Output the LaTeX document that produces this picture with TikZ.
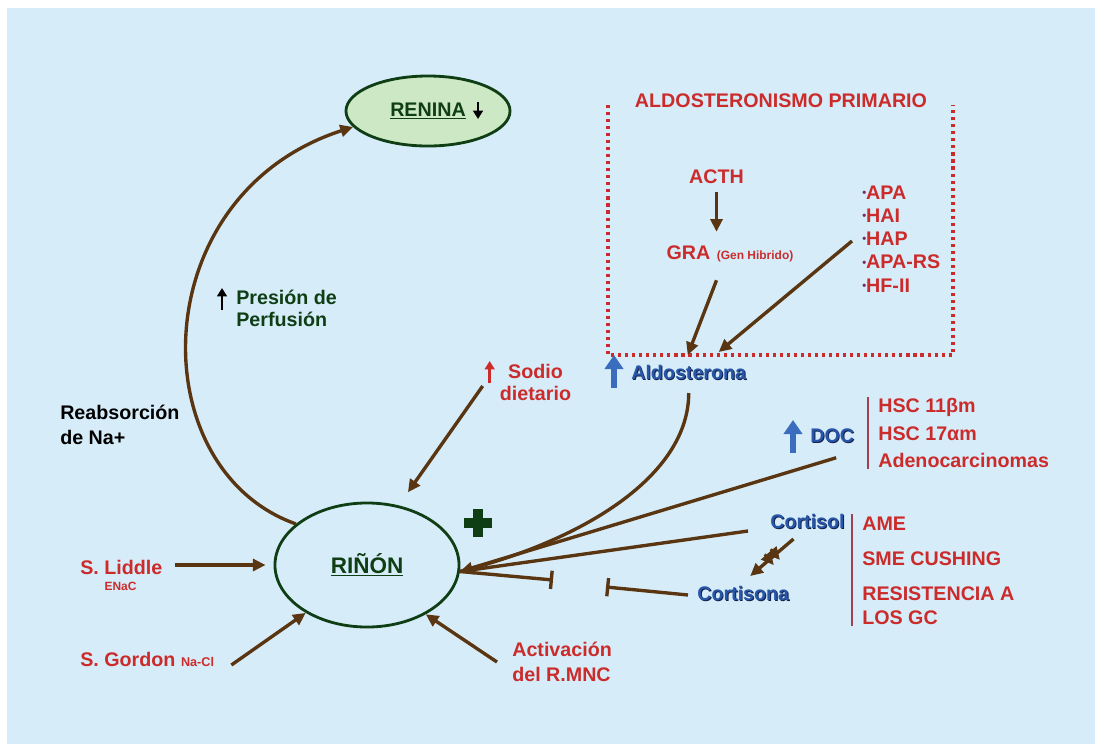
\documentclass[tikz,border=0pt]{standalone}
\usepackage{fontspec}
\setmainfont{Liberation Sans}
\usetikzlibrary{shapes.geometric, arrows.meta, positioning, calc, decorations.markings}
\definecolor{bgblue}{HTML}{D6EDF9}
\definecolor{txtred}{HTML}{CC2B2B}
\definecolor{arrbrown}{HTML}{5A3511}
\definecolor{dkgreen}{HTML}{0F3D14}
\definecolor{renfill}{HTML}{CDE8C5}
\definecolor{blutxt}{HTML}{2856A8}
\definecolor{blushadow}{HTML}{14204A}
\definecolor{bluarr}{HTML}{3A6DBE}
\definecolor{sepcol}{HTML}{A04050}
\definecolor{bulpurple}{HTML}{7B2A5E}
\newcommand{\bul}{{\color{bulpurple}\fontsize{8}{8}\selectfont\raisebox{2pt}{\textbullet}}}
\newcommand{\shd}[1]{\rlap{\textcolor{blushadow}{\hspace{0.7pt}\raisebox{-0.7pt}{#1}}}#1}

\begin{document}
\begin{tikzpicture}[
    x=0.025cm, y=-0.025cm,
    txt/.style={inner sep=0pt, font=\bfseries\fontsize{14}{16.5}\selectfont},
    redtxt/.style={txt, text=txtred},
    bluetxt/.style={txt, text=blutxt},
    greentxt/.style={txt, text=dkgreen},
    smalltxt/.style={inner sep=0pt, text=txtred, font=\bfseries\fontsize{8.5}{10}\selectfont},
    organ/.style={ellipse, draw=dkgreen, line width=2pt, text=dkgreen,
                  font=\bfseries\fontsize{16}{18}\selectfont},
    conn/.style={draw=arrbrown, line width=2.4pt, -{Triangle[length=9pt,width=8.5pt]}},
    fanln/.style={draw=arrbrown, line width=2.4pt},
    inhib/.style={draw=arrbrown, line width=2.4pt, -{Bar[width=13pt]}},
    dblbar/.style={postaction={decorate, decoration={markings,
        mark=at position 0.42 with {\draw[arrbrown, line width=2pt] (0pt,-5pt) -- (0pt,5pt);},
        mark=at position 0.56 with {\draw[arrbrown, line width=2pt] (0pt,-5pt) -- (0pt,5pt);}}}},
    uparr/.style={line width=2pt, -{Triangle[length=6pt,width=7pt]}},
    bigup/.style={draw=bluarr, line width=3.8pt, -{Triangle[length=10pt,width=13pt]}},
    dotbox/.style={draw=txtred, line width=2.2pt, dash pattern=on 2.2pt off 2.8pt},
    sepline/.style={draw=sepcol, line width=1.1pt}
  ]
    \useasboundingbox (0,0) rectangle (1095,744);
    \fill[bgblue] (7,8) rectangle (1095,744);

    % organos
    \node[organ, fill=renfill, minimum width=4.1cm, minimum height=1.75cm,
          font=\bfseries\fontsize{14}{16}\selectfont] (renina) at (428,111) {\underline{RENINA}\hspace{16pt}};
    \node[organ, minimum width=4.6cm, minimum height=3.1cm] (rinon) at (367,565) {\underline{RIÑÓN}};
    \draw[uparr, black] ($(renina.center)+(50,-9)$) -- +(0,17);

    % aldosteronismo primario
    \node[redtxt] (aldtit) at (781,101) {ALDOSTERONISMO PRIMARIO};
    \draw[dotbox] (608,105) -- (608,355) -- (953,355) -- (953,105);
    \node[redtxt] (acth) at (716.5,177) {ACTH};
    \node[redtxt] (gra) at (688.5,253) {GRA};
    \node[smalltxt, base right=0.15cm of gra] (grasub) {(Gen Hibrido)};
    \node[redtxt, anchor=west, align=left] (causas) at (862,239)
      {\bul APA\\\bul HAI\\\bul HAP\\\bul APA-RS\\\bul HF-II};
    \node[bluetxt, anchor=west] (aldo) at (631,373) {\shd{Aldosterona}};
    \draw[bigup] ($(aldo.west)+(-17,15)$) -- +(0,-33);

    \draw[conn, shorten <=0.2cm, shorten >=0.35cm] (acth.south) -- (acth.south |- gra.north);
    \draw[conn] ($(gra.south)+(28,20)$) -- ($(aldo.north)+(-1,-10)$);
    \draw[conn] ($(causas.west)+(-10,2)$) -- ($(aldo.north)+(30,-13)$);

    % DOC y cortisol
    \node[bluetxt, anchor=west] (doc) at (810,436) {\shd{DOC}};
    \draw[bigup] ($(doc.west)+(-17,17)$) -- +(0,-33);
    \draw[sepline] (868,397) -- (868,469);
    \node[redtxt, anchor=west, align=left, font=\bfseries\fontsize{14}{19.5}\selectfont] (hsc) at (878,433)
      {HSC 11βm\\HSC 17αm\\Adenocarcinomas};
    \node[bluetxt, anchor=west] (cortisol) at (770,522) {\shd{Cortisol}};
    \node[bluetxt, anchor=west] (cortisona) at (697,594) {\shd{Cortisona}};
    \draw[sepline] (852,514) -- (852,626);
    \node[redtxt, anchor=west, align=left, font=\bfseries\fontsize{14}{17}\selectfont] (sindromes) at (862,570.5)
      {AME\\[8pt]SME CUSHING\\[8pt]RESISTENCIA A\\LOS GC};

    % lado izquierdo
    \node[txt, anchor=west, align=left, font=\bfseries\fontsize{14}{17.7}\selectfont] (reabs) at (60,424.5)
      {Reabsorción\\de Na+};
    \node[greentxt, anchor=west, align=left, font=\bfseries\fontsize{14}{15.6}\selectfont] (presion) at (236,308)
      {Presión de\\Perfusión};
    \draw[uparr, black] ($(presion.west)+(-14,2)$) -- +(0,-22);
    \node[redtxt, align=center, font=\bfseries\fontsize{14}{15.6}\selectfont] (sodio) at (535.5,382) {Sodio\\dietario};
    \draw[uparr, txtred] ($(sodio.west)+(-10,1)$) -- +(0,-22);
    \node[redtxt, anchor=west] (liddle) at (80,567) {S. Liddle};
    \node[smalltxt] (enac) at (120.5,586) {ENaC};
    \node[redtxt, anchor=west] (gordon) at (80,659) {S. Gordon\hspace{4pt}{\fontsize{9}{10}\selectfont Na-Cl}};
    \node[redtxt, anchor=west, align=left, font=\bfseries\fontsize{14}{17.7}\selectfont] (activ) at (512,662)
      {Activación\\del R.MNC};

    % plus
    \draw[dkgreen, line width=6.5pt] (464,523) -- (492,523) (478,509) -- (478,537);

    % conexiones al rinon
    \coordinate (kin) at (rinon.-4);
    \coordinate (blk1) at (553,580);
    \coordinate (blk2) at (606,587);
    \draw[conn] (rinon.150) .. controls +(-155,-55) and +(-210,68) .. (renina.192);
    \draw[conn] ($(aldo.south)+(0,12)$) .. controls +(0,80) and +(130,-35) .. (kin);
    \draw[fanln] ($(doc.south)+(4,14)$) -- (kin);
    \draw[fanln] ($(cortisol.south west)+(-22,1)$) -- (kin);
    \draw[inhib] (kin) -- (blk1);
    \draw[inhib] ($(cortisona.west)+(-9,1)$) -- (blk2);
    \draw[conn, dblbar] ($(cortisol.south)+(-14,9)$) -- ($(cortisona.north)+(7,-10)$);
    \draw[conn, shorten >=0.4cm] ($(sodio.west)+(-17,4)$) -- (rinon.62);
    \draw[conn, shorten >=0.2cm] ($(liddle.east)+(12,-2)$) -- (rinon.west);
    \draw[conn] ($(gordon.east)+(17,6)$) -- (rinon.218);
    \draw[conn] ($(activ.west)+(-15,0)$) -- (rinon.-40);
\end{tikzpicture}
\end{document}
